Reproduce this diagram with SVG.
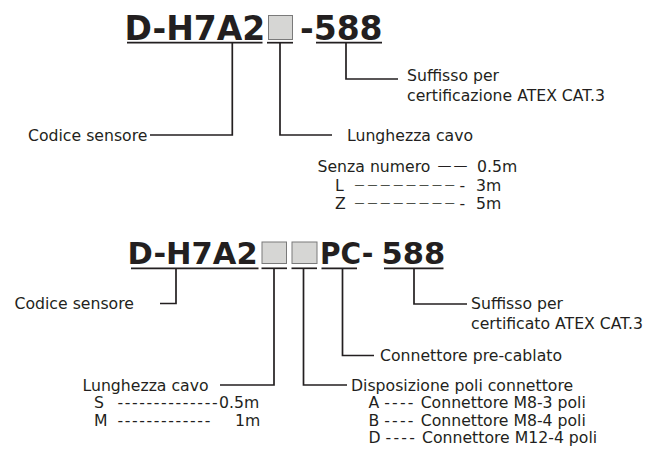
<svg xmlns="http://www.w3.org/2000/svg" width="651" height="458" viewBox="0 0 651 458">
<style>
  text { font-family: "DejaVu Sans", Verdana, sans-serif; fill: #231f20; }
  .lbl { font-size: 15.7px; }
  .t1 { font-size: 33px; font-weight: bold; }
  .t2 { font-size: 30.5px; font-weight: bold; }
  .box { fill: #d6d6d4; stroke: #7a7a7a; stroke-width: 1; }
  .ul { stroke: #231f20; stroke-width: 1.7; fill: none; }
  .conn path { stroke: #231f20; stroke-width: 1.7; fill: none; }
  .hy { letter-spacing: 1.6px; }
  .hy2 { letter-spacing: 2.2px; }
  .em1 { font-size: 14px; letter-spacing: 2px; }
  .em2 { font-size: 10px; letter-spacing: 2.9px; }
</style>
<rect width="651" height="458" fill="#ffffff"/>

<!-- Row 1 title -->
<g id="code1">
  <text class="t1" x="124.5" y="39.5">D-H7A2</text>
  <rect class="box" x="268.5" y="15.5" width="24" height="24"/>
  <text class="t1" x="300" y="39.5">-588</text>
  <line class="ul" x1="127" y1="42.7" x2="262.5" y2="42.7"/>
  <line class="ul" x1="267" y1="42.7" x2="293" y2="42.7"/>
  <line class="ul" x1="316" y1="42.7" x2="382" y2="42.7"/>
</g>

<g id="suffix1">
  <text class="lbl" x="407" y="80.5">Suffisso per</text>
  <text class="lbl" x="407" y="100.5">certificazione ATEX CAT.3</text>
</g>
<g id="sensor1">
  <text class="lbl" x="28" y="140.5">Codice sensore</text>
</g>
<g id="cable1">
  <text class="lbl" x="347" y="140.5">Lunghezza cavo</text>
</g>
<g id="cable1-options">
  <text class="lbl" x="317.5" y="172">Senza numero <tspan class="em1" x="437.5" dy="-2">——</tspan> <tspan x="477" dy="2">0.5m</tspan></text>
  <text class="lbl" x="335" y="190.5">L <tspan class="em2" x="354.5" dy="-2.8">————————</tspan><tspan x="459.5" dy="2.8">-</tspan> <tspan x="476">3m</tspan></text>
  <text class="lbl" x="335" y="209">Z <tspan class="em2" x="354.5" dy="-2.8">————————</tspan><tspan x="459.5" dy="2.8">-</tspan> <tspan x="476">5m</tspan></text>
</g>

<!-- Row 2 title -->
<g id="code2">
  <text class="t2" x="127.5" y="263.5">D-H7A2</text>
  <rect class="box" x="262" y="242" width="24.5" height="21.5"/>
  <rect class="box" x="292" y="242" width="25" height="21.5"/>
  <text class="t2" x="320" y="263.5" textLength="53.5" lengthAdjust="spacingAndGlyphs">PC-</text>
  <text class="t2" x="381.5" y="263.5">588</text>
  <line class="ul" x1="131" y1="268.3" x2="258.5" y2="268.3"/>
  <line class="ul" x1="261.5" y1="268.3" x2="287" y2="268.3"/>
  <line class="ul" x1="291.5" y1="268.3" x2="317" y2="268.3"/>
  <line class="ul" x1="321.5" y1="268.3" x2="357" y2="268.3"/>
  <line class="ul" x1="384" y1="268.3" x2="443.5" y2="268.3"/>
</g>

<g id="sensor2">
  <text class="lbl" x="14.5" y="308.5">Codice sensore</text>
</g>
<g id="suffix2">
  <text class="lbl" x="471" y="309">Suffisso per</text>
  <text class="lbl" x="471" y="329">certificato ATEX CAT.3</text>
</g>
<g id="connector2">
  <text class="lbl" x="380" y="360.5">Connettore pre-cablato</text>
</g>
<g id="cable2">
  <text class="lbl" x="82.5" y="390.5">Lunghezza cavo</text>
  <text class="lbl" x="94" y="408">S <tspan class="hy" x="117.5">--------------</tspan><tspan x="219">0.5m</tspan></text>
  <text class="lbl" x="94" y="425.5">M <tspan class="hy" x="117.5">-------------</tspan> <tspan x="235">1m</tspan></text>
</g>
<g id="pins2">
  <text class="lbl" x="351" y="390.5">Disposizione poli connettore</text>
  <text class="lbl" x="368.5" y="408">A <tspan class="hy2">----</tspan> Connettore M8-3 poli</text>
  <text class="lbl" x="368.5" y="425.5">B <tspan class="hy2">----</tspan> Connettore M8-4 poli</text>
  <text class="lbl" x="368.5" y="443">D <tspan class="hy2">----</tspan> Connettore M12-4 poli</text>
</g>

<g id="connectors" class="conn">
  <path d="M232.3,43 V135 H150"/>
  <path d="M280,43 V135 H332"/>
  <path d="M346,43 V79 H398"/>
  <path d="M176,269 V303.5 H160"/>
  <path d="M274,269 V385 H220"/>
  <path d="M303.5,269 V385 H347"/>
  <path d="M342.5,269 V355.5 H374"/>
  <path d="M414,269 V304 H467"/>
</g>
</svg>
